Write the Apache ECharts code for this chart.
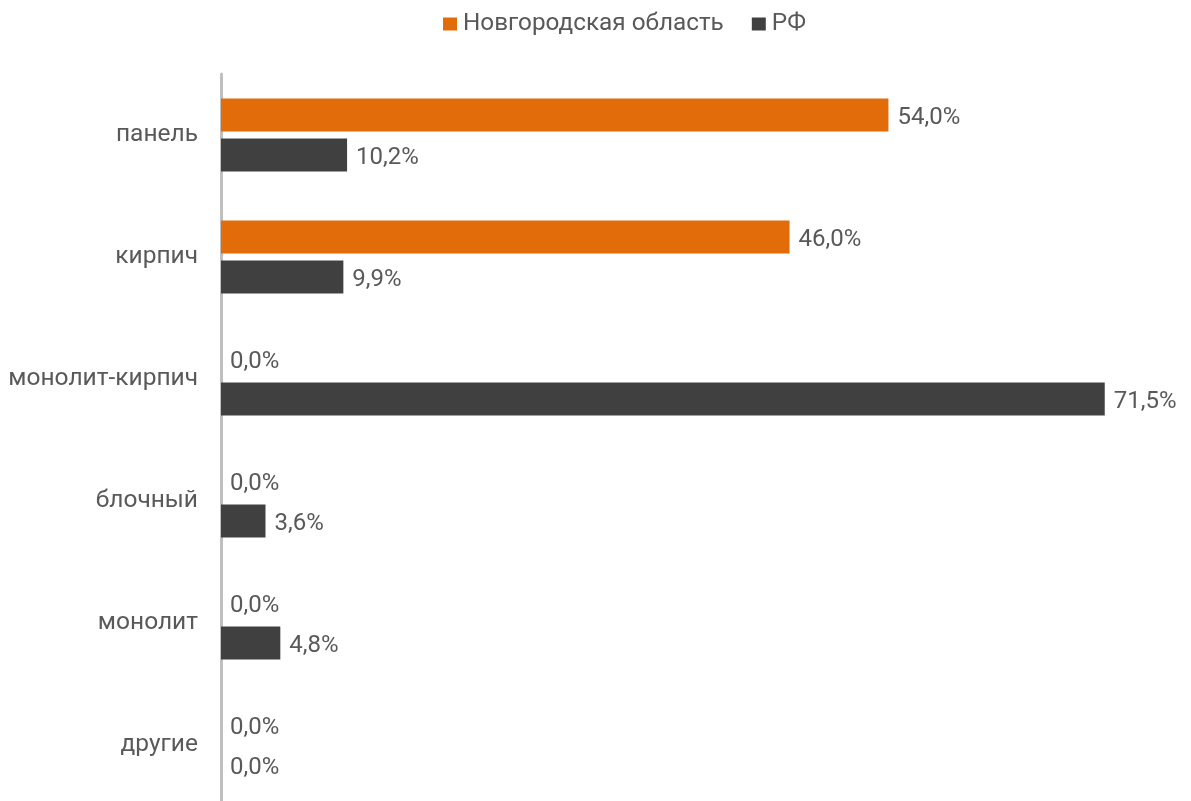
<!DOCTYPE html>
<html>
<head>
<meta charset="utf-8">
<script src="https://cdn.jsdelivr.net/npm/echarts@6/dist/echarts.min.js"></script>
<style>
html,body{margin:0;padding:0;background:#fff;overflow:hidden;width:1191px;height:801px;}
#chart{width:1191px;height:806px;}
</style>
</head>
<body>
<div id="chart"></div>
<script>
const categories = ['панель', 'кирпич', 'монолит-кирпич', 'блочный', 'монолит', 'другие'];
const seriesNames = ['Новгородская область', 'РФ'];
const novgorodValues = [54.0, 46.0, 0.0, 0.0, 0.0, 0.0];
const rfValues = [10.2, 9.9, 71.5, 3.6, 4.8, 0.0];

const FONT = 'Roboto';
const TXT = '#595959';
const fmt = p => p.value.toFixed(1).replace('.', ',') + '%';

const chart = echarts.init(document.getElementById('chart'), null, {renderer: 'canvas'});
chart.setOption({
  animation: false,
  backgroundColor: '#ffffff',
  textStyle: {fontFamily: FONT},
  legend: {
    left: 443,
    top: 12,
    padding: 0,
    itemWidth: 14,
    itemHeight: 13,
    itemGap: 28,
    icon: 'rect',
    textStyle: {fontFamily: FONT, fontSize: 24.3, color: TXT, padding: [0, 0, 0, 1]},
    data: seriesNames
  },
  grid: {left: 221, right: 43, top: 74, bottom: 0, containLabel: false},
  xAxis: {
    type: 'value',
    min: 0,
    max: 75,
    show: false,
    splitLine: {show: false}
  },
  yAxis: {
    type: 'category',
    inverse: true,
    data: categories,
    axisLine: {show: true, lineStyle: {color: '#BFBFBF', width: 3}},
    axisTick: {show: false},
    axisLabel: {fontFamily: FONT, fontSize: 24.5, color: TXT, margin: 23}
  },
  series: [
    {
      name: seriesNames[0],
      type: 'bar',
      data: novgorodValues,
      barWidth: 33,
      barGap: '21%',
      itemStyle: {color: '#E36C0A'},
      label: {show: true, position: 'right', distance: 9, offset: [0, 3], formatter: fmt,
               fontFamily: FONT, fontSize: 24, color: TXT}
    },
    {
      name: seriesNames[1],
      type: 'bar',
      data: rfValues,
      barWidth: 33,
      barGap: '21%',
      itemStyle: {color: '#404040'},
      label: {show: true, position: 'right', distance: 9, offset: [0, 3], formatter: fmt,
               fontFamily: FONT, fontSize: 24, color: TXT}
    }
  ]
});
</script>
</body>
</html>
